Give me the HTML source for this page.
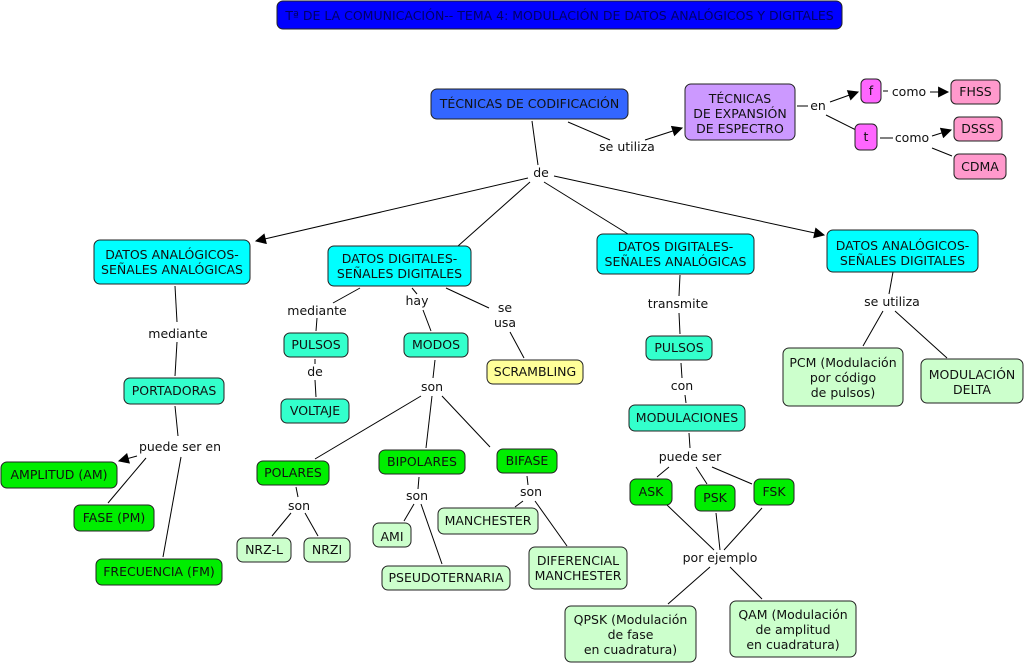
<!DOCTYPE html>
<html><head><meta charset="utf-8">
<style>
html,body{margin:0;padding:0;background:#fff;}
svg{display:block;}
text{font-family:"DejaVu Sans","Liberation Sans",sans-serif;font-size:12.5px;fill:#111;}
.lbl{fill:#000;}
rect{stroke:#222;stroke-width:1;}
line{stroke:#000;stroke-width:1;}
</style></head><body>
<svg width="1024" height="666" viewBox="0 0 1024 666" xmlns="http://www.w3.org/2000/svg">
<defs>
<marker id="a" viewBox="0 0 10 10" refX="9" refY="5" markerWidth="13" markerHeight="11" markerUnits="userSpaceOnUse" orient="auto"><path d="M0,0 L10,5 L0,10 z" fill="#000"/></marker>
</defs>

<g>
<line x1="568" y1="122" x2="610" y2="140"/>
<line x1="645" y1="140" x2="682" y2="128" marker-end="url(#a)"/>
<line x1="797" y1="106" x2="808" y2="106"/>
<line x1="830" y1="102" x2="858" y2="92" marker-end="url(#a)"/>
<line x1="826" y1="115" x2="856" y2="130"/>
<line x1="883" y1="91" x2="888" y2="91"/>
<line x1="930" y1="92" x2="948" y2="92" marker-end="url(#a)"/>
<line x1="880" y1="138" x2="893" y2="138"/>
<line x1="932" y1="136" x2="951" y2="130" marker-end="url(#a)"/>
<line x1="932" y1="148" x2="952" y2="156"/>
<line x1="532" y1="121" x2="538" y2="165"/>
<line x1="528" y1="178" x2="256" y2="241" marker-end="url(#a)"/>
<line x1="530" y1="182" x2="458" y2="246"/>
<line x1="544" y1="182" x2="628" y2="234"/>
<line x1="554" y1="176" x2="824" y2="235" marker-end="url(#a)"/>
<line x1="175" y1="286" x2="177" y2="322"/>
<line x1="177" y1="342" x2="175" y2="376"/>
<line x1="175" y1="406" x2="178" y2="436"/>
<line x1="137" y1="456" x2="119" y2="461" marker-end="url(#a)"/>
<line x1="146" y1="458" x2="108" y2="503"/>
<line x1="181" y1="457" x2="163" y2="557"/>
<line x1="360" y1="288" x2="333" y2="303"/>
<line x1="317" y1="318" x2="316" y2="331"/>
<line x1="412" y1="288" x2="417" y2="294"/>
<line x1="423" y1="310" x2="431" y2="331"/>
<line x1="446" y1="288" x2="489" y2="308"/>
<line x1="510" y1="332" x2="524" y2="358"/>
<line x1="315" y1="359" x2="315" y2="364"/>
<line x1="315" y1="380" x2="316" y2="397"/>
<line x1="435" y1="360" x2="433" y2="378"/>
<line x1="421" y1="396" x2="315" y2="459"/>
<line x1="432" y1="396" x2="426" y2="448"/>
<line x1="442" y1="396" x2="490" y2="447"/>
<line x1="680" y1="275" x2="679" y2="296"/>
<line x1="679" y1="313" x2="680" y2="334"/>
<line x1="681" y1="363" x2="682" y2="378"/>
<line x1="685" y1="395" x2="686" y2="403"/>
<line x1="689" y1="433" x2="690" y2="448"/>
<line x1="669" y1="467" x2="657" y2="477"/>
<line x1="696" y1="467" x2="707" y2="484"/>
<line x1="712" y1="467" x2="752" y2="484"/>
<line x1="667" y1="505" x2="714" y2="550"/>
<line x1="716" y1="513" x2="720" y2="550"/>
<line x1="762" y1="508" x2="724" y2="550"/>
<line x1="710" y1="567" x2="668" y2="604"/>
<line x1="730" y1="567" x2="762" y2="599"/>
<line x1="893" y1="272" x2="889" y2="294"/>
<line x1="883" y1="311" x2="863" y2="346"/>
<line x1="895" y1="311" x2="947" y2="358"/>
<line x1="296" y1="487" x2="298" y2="497"/>
<line x1="291" y1="513" x2="272" y2="536"/>
<line x1="305" y1="513" x2="318" y2="536"/>
<line x1="419" y1="477" x2="418" y2="489"/>
<line x1="414" y1="504" x2="404" y2="521"/>
<line x1="421" y1="504" x2="442" y2="564"/>
<line x1="527" y1="476" x2="528" y2="485"/>
<line x1="523" y1="501" x2="515" y2="507"/>
<line x1="535" y1="501" x2="567" y2="546"/>
</g>

<rect x="277" y="1" width="565" height="28" rx="6" fill="#0000ff"/>
<text x="559.5" y="20" text-anchor="middle" style="fill:#000066;font-size:12.5px">Tª DE LA COMUNICACIÓN-- TEMA 4: MODULACIÓN DE DATOS ANALÓGICOS Y DIGITALES</text>

<g text-anchor="middle">
<rect x="431" y="89" width="197" height="30" rx="6" fill="#3366ff"/><text x="529.5" y="108">TÉCNICAS DE CODIFICACIÓN</text>
<rect x="685" y="84" width="110" height="56" rx="6" fill="#cc99ff"/><text x="740" y="103">TÉCNICAS</text><text x="740" y="118">DE EXPANSIÓN</text><text x="740" y="133">DE ESPECTRO</text>
<rect x="861" y="79" width="20" height="24" rx="5" fill="#ff66ff"/><text x="871" y="95">f</text>
<rect x="855" y="124" width="22" height="26" rx="5" fill="#ff66ff"/><text x="866" y="141">t</text>
<rect x="951" y="80" width="49" height="24" rx="5" fill="#ff99cc"/><text x="975.5" y="96">FHSS</text>
<rect x="954" y="117" width="48" height="24" rx="5" fill="#ff99cc"/><text x="978" y="133">DSSS</text>
<rect x="954" y="154" width="52" height="25" rx="5" fill="#ff99cc"/><text x="980" y="171">CDMA</text>

<rect x="94" y="240" width="156" height="44" rx="6" fill="#00ffff"/><text x="172" y="259">DATOS ANALÓGICOS-</text><text x="172" y="274">SEÑALES ANALÓGICAS</text>
<rect x="328" y="246" width="143" height="40" rx="6" fill="#00ffff"/><text x="399.5" y="263">DATOS DIGITALES-</text><text x="399.5" y="278">SEÑALES DIGITALES</text>
<rect x="597" y="234" width="157" height="40" rx="6" fill="#00ffff"/><text x="675.5" y="251">DATOS DIGITALES-</text><text x="675.5" y="266">SEÑALES ANALÓGICAS</text>
<rect x="827" y="230" width="151" height="42" rx="6" fill="#00ffff"/><text x="902.5" y="250">DATOS ANALÓGICOS-</text><text x="902.5" y="265">SEÑALES DIGITALES</text>

<rect x="124" y="378" width="100" height="26" rx="6" fill="#33ffcc"/><text x="174" y="395">PORTADORAS</text>
<rect x="284" y="333" width="64" height="24" rx="6" fill="#33ffcc"/><text x="316" y="349">PULSOS</text>
<rect x="281" y="399" width="68" height="24" rx="6" fill="#33ffcc"/><text x="315" y="415">VOLTAJE</text>
<rect x="404" y="333" width="64" height="24" rx="6" fill="#33ffcc"/><text x="436" y="349">MODOS</text>
<rect x="487" y="360" width="96" height="24" rx="6" fill="#ffff99"/><text x="535" y="376">SCRAMBLING</text>
<rect x="646" y="336" width="66" height="24" rx="6" fill="#33ffcc"/><text x="679" y="352">PULSOS</text>
<rect x="629" y="405" width="116" height="26" rx="6" fill="#33ffcc"/><text x="687" y="422">MODULACIONES</text>

<rect x="1" y="462" width="116" height="26" rx="6" fill="#00ee00"/><text x="59" y="479">AMPLITUD (AM)</text>
<rect x="74" y="505" width="80" height="26" rx="6" fill="#00ee00"/><text x="114" y="522">FASE (PM)</text>
<rect x="96" y="559" width="126" height="26" rx="6" fill="#00ee00"/><text x="159" y="576">FRECUENCIA (FM)</text>
<rect x="257" y="461" width="72" height="24" rx="6" fill="#00ee00"/><text x="293" y="477">POLARES</text>
<rect x="379" y="450" width="86" height="24" rx="6" fill="#00ee00"/><text x="422" y="466">BIPOLARES</text>
<rect x="497" y="449" width="60" height="24" rx="6" fill="#00ee00"/><text x="527" y="465">BIFASE</text>
<rect x="630" y="479" width="42" height="26" rx="6" fill="#00ee00"/><text x="651" y="496">ASK</text>
<rect x="695" y="485" width="40" height="26" rx="6" fill="#00ee00"/><text x="715" y="502">PSK</text>
<rect x="754" y="479" width="40" height="26" rx="6" fill="#00ee00"/><text x="774" y="496">FSK</text>

<rect x="237" y="538" width="54" height="24" rx="6" fill="#ccffcc"/><text x="264" y="554">NRZ-L</text>
<rect x="304" y="538" width="46" height="24" rx="6" fill="#ccffcc"/><text x="327" y="554">NRZI</text>
<rect x="373" y="523" width="38" height="24" rx="6" fill="#ccffcc"/><text x="392" y="541">AMI</text>
<rect x="382" y="566" width="128" height="24" rx="6" fill="#ccffcc"/><text x="446" y="582">PSEUDOTERNARIA</text>
<rect x="438" y="508" width="100" height="26" rx="6" fill="#ccffcc"/><text x="488" y="525">MANCHESTER</text>
<rect x="529" y="547" width="98" height="42" rx="6" fill="#ccffcc"/><text x="578" y="565">DIFERENCIAL</text><text x="578" y="580">MANCHESTER</text>
<rect x="565" y="606" width="131" height="56" rx="6" fill="#ccffcc"/><text x="630.5" y="624">QPSK (Modulación</text><text x="630.5" y="639">de fase</text><text x="630.5" y="654">en cuadratura)</text>
<rect x="730" y="601" width="126" height="56" rx="6" fill="#ccffcc"/><text x="793" y="619">QAM (Modulación</text><text x="793" y="634">de amplitud</text><text x="793" y="649">en cuadratura)</text>
<rect x="783" y="348" width="120" height="58" rx="6" fill="#ccffcc"/><text x="843" y="367">PCM (Modulación</text><text x="843" y="382">por código</text><text x="843" y="397">de pulsos)</text>
<rect x="921" y="359" width="102" height="44" rx="6" fill="#ccffcc"/><text x="972" y="379">MODULACIÓN</text><text x="972" y="394">DELTA</text>
</g>

<g text-anchor="middle" class="lbl">
<text x="627" y="151">se utiliza</text>
<text x="818" y="110">en</text>
<text x="909" y="96">como</text>
<text x="912" y="142">como</text>
<text x="541" y="177">de</text>
<text x="178" y="338">mediante</text>
<text x="317" y="315">mediante</text>
<text x="417" y="305">hay</text>
<text x="505" y="312">se</text>
<text x="505" y="327">usa</text>
<text x="315" y="376">de</text>
<text x="432" y="391">son</text>
<text x="678" y="308">transmite</text>
<text x="682" y="390">con</text>
<text x="180" y="451">puede ser en</text>
<text x="299" y="510">son</text>
<text x="417" y="500">son</text>
<text x="531" y="496">son</text>
<text x="690" y="461">puede ser</text>
<text x="720" y="562">por ejemplo</text>
<text x="892" y="306">se utiliza</text>
</g>
</svg>
</body></html>
